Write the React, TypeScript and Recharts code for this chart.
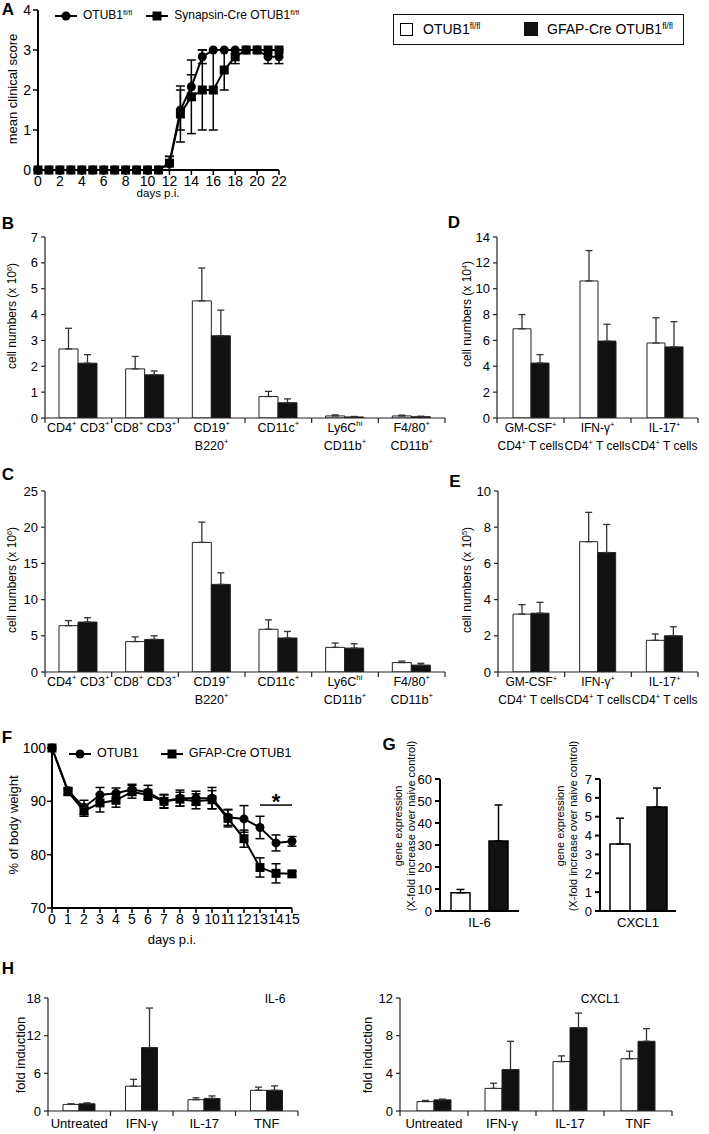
import React from "react";
import { BarChart, Bar, LineChart, Line, XAxis, YAxis, ErrorBar, ReferenceLine } from "recharts";

const FONT = '"Liberation Sans", Arial, Helvetica, sans-serif';

// ---- A: clinical score ----
const daysA = [0, 1, 2, 3, 4, 5, 6, 7, 8, 9, 10, 11, 12, 13, 14, 15, 16, 17, 18, 19, 20, 21, 22];
const scoreFl = [0, 0, 0, 0, 0, 0, 0, 0, 0, 0, 0, 0, 0.17, 1.5, 2.08, 2.83, 3, 3, 3, 3, 3, 2.83, 2.83];
const errFl = [0, 0, 0, 0, 0, 0, 0, 0, 0, 0, 0, 0, 0.17, 0.5, 0.3, 0.17, 0, 0, 0, 0, 0, 0.17, 0.17];
const scoreSyn = [0, 0, 0, 0, 0, 0, 0, 0, 0, 0, 0, 0, 0.17, 1.4, 1.83, 2, 2, 2.5, 2.83, 3, 3, 3, 3];
const errSyn = [0, 0, 0, 0, 0, 0, 0, 0, 0, 0, 0, 0, 0.17, 0.7, 0.92, 1, 1, 0.5, 0.17, 0, 0, 0, 0];
const ticksA = [0, 2, 4, 6, 8, 10, 12, 14, 16, 18, 20, 22];

// ---- B / C: spleen / CNS cell numbers ----
const catsBC = ["CD4{+} CD3{+}", "CD8{+} CD3{+}", "CD19{+}\nB220{+}", "CD11c{+}", "Ly6C{hi}\nCD11b{+}", "F4/80{+}\nCD11b{+}"];
const bFl = [2.67, 1.9, 4.53, 0.83, 0.08, 0.08];
const bFlErr = [0.8, 0.48, 1.27, 0.2, 0.04, 0.03];
const bGfap = [2.12, 1.67, 3.18, 0.59, 0.04, 0.05];
const bGfapErr = [0.33, 0.15, 0.99, 0.15, 0.02, 0.02];
const cFl = [6.4, 4.2, 17.9, 5.9, 3.4, 1.3];
const cFlErr = [0.7, 0.65, 2.8, 1.3, 0.6, 0.2];
const cGfap = [6.9, 4.5, 12.1, 4.7, 3.3, 0.95];
const cGfapErr = [0.6, 0.5, 1.6, 0.9, 0.6, 0.25];

// ---- D / E: cytokine-producing T cells ----
const catsDE = ["GM-CSF{+}\nCD4{+} T cells", "IFN-γ{+}\nCD4{+} T cells", "IL-17{+}\nCD4{+} T cells"];
const dFl = [6.9, 10.6, 5.8];
const dFlErr = [1.1, 2.35, 1.95];
const dGfap = [4.25, 5.95, 5.5];
const dGfapErr = [0.65, 1.3, 1.95];
const eFl = [3.2, 7.2, 1.75];
const eFlErr = [0.52, 1.62, 0.35];
const eGfap = [3.25, 6.6, 2.0];
const eGfapErr = [0.6, 1.55, 0.5];

// ---- F: body weight ----
const daysF = [0, 1, 2, 3, 4, 5, 6, 7, 8, 9, 10, 11, 12, 13, 14, 15];
const wtCtrl = [100, 92, 88.9, 91.2, 91.5, 92.2, 91.7, 90.0, 90.6, 90.6, 90.6, 87.0, 86.7, 85.1, 82.2, 82.5];
const errCtrl = [0, 0.6, 1.3, 1.4, 1.0, 1.0, 1.3, 1.3, 1.5, 1.3, 2.0, 1.5, 2.5, 2.1, 1.5, 0.9];
const wtGfap = [100, 91.8, 88.2, 89.7, 90.2, 91.8, 91.2, 90.0, 90.4, 90.0, 90.3, 86.8, 83.0, 77.6, 76.5, 76.4];
const errGfap = [0, 0.6, 1.0, 1.7, 1.3, 1.2, 1.0, 1.2, 1.3, 1.4, 1.7, 1.6, 1.6, 1.8, 1.8, 0.5];
const ticksF = [0, 1, 2, 3, 4, 5, 6, 7, 8, 9, 10, 11, 12, 13, 14, 15];

// ---- G: gene expression ----
const gIl6 = [8.3, 31.8];
const gIl6Err = [1.5, 16.4];
const gCxcl1 = [3.55, 5.52];
const gCxcl1Err = [1.37, 1.0];

// ---- H: fold induction ----
const catsH = ["Untreated", "IFN-γ", "IL-17", "TNF"];
const hIl6Fl = [1.05, 3.95, 1.8, 3.3];
const hIl6FlErr = [0.1, 1.1, 0.3, 0.5];
const hIl6Gfap = [1.15, 10.1, 2.0, 3.3];
const hIl6GfapErr = [0.15, 6.3, 0.4, 0.7];
const hCxFl = [1.0, 2.4, 5.25, 5.55];
const hCxFlErr = [0.12, 0.55, 0.6, 0.8];
const hCxGfap = [1.18, 4.4, 8.85, 7.4];
const hCxGfapErr = [0.08, 3.0, 1.55, 1.35];

// text with {superscript} parts, as svg tspans
function segs(line: string, fs: number) {
  const parts = line.split(/(\{[^}]*\})/).filter((s) => s !== "");
  let up = false;
  return parts.map((p, i) => {
    if (p.startsWith("{")) {
      const el = (
        <tspan key={i} dy={up ? 0 : -fs * 0.45} fontSize={fs * 0.62}>
          {p.slice(1, -1)}
        </tspan>
      );
      up = true;
      return el;
    }
    const el = (
      <tspan key={i} dy={up ? fs * 0.45 : 0}>
        {p}
      </tspan>
    );
    up = false;
    return el;
  });
}

const Sup = ({ children }: any) => (
  <span style={{ fontSize: "0.6em", position: "relative", top: "-0.6em" }}>{children}</span>
);

const Abs = ({ x, y, size = 12, bold = false, rot = false, children, align = "center" }: any) => (
  <div
    style={{
      position: "absolute",
      left: x,
      top: y,
      transform: `translate(-50%,-50%)${rot ? " rotate(-90deg)" : ""}`,
      fontSize: size,
      fontWeight: bold ? "bold" : "normal",
      whiteSpace: "nowrap",
      lineHeight: 1.15,
      textAlign: align,
      fontFamily: FONT,
      color: "#000",
    }}
  >
    {children}
  </div>
);

const CatTick = (p: any) => {
  const { x, y, payload, index, band, fs, base, lh, marks, ax } = p;
  const lines = String(payload.value).split("\n");
  return (
    <g>
      {marks && index === 0 && <line x1={x - band / 2} x2={x - band / 2} y1={y} y2={y + 5} stroke={ax} strokeWidth={1.2} />}
      {marks && <line x1={x + band / 2} x2={x + band / 2} y1={y} y2={y + 5} stroke={ax} strokeWidth={1.2} />}
      {lines.map((ln, i) => (
        <text key={i} x={x} y={y + base + i * lh} textAnchor="middle" fontSize={fs} fontFamily={FONT} fill="#000">
          {segs(ln, fs)}
        </text>
      ))}
    </g>
  );
};

function frame(x0: number, y0: number, x1: number, y1: number, yw: number, xh: number) {
  return {
    style: { position: "absolute" as const, left: x0 - yw, top: y0 - 12 },
    width: x1 - x0 + yw + 12,
    height: y1 - y0 + 12 + xh,
    margin: { top: 12, right: 12, bottom: 0, left: 0 },
  };
}

const EXCEL = { yw: 35, xh: 40, ax: "#222", aw: 1.2, ts: 4, yfs: 13, xfs: 12.5, base: 14, lh: 18, marks: true, bs: "#222", bsw: 1, eb: "#333", ew: 1.3, cap: 3.5 };
const PRISM = { yw: 30, xh: 24, ax: "#000", aw: 2, ts: 5, yfs: 13, xfs: 13, base: 16, lh: 16, marks: false, bs: "#000", bsw: 1.5, eb: "#000", ew: 1.5, cap: 4 };

function BarPanel({ r, cats, fl, flErr, gf, gfErr, domain, ticks, barSize, barGap = 0, st }: any) {
  const [x0, y0, x1, y1] = r;
  const f = frame(x0, y0, x1, y1, st.yw, st.xh);
  const band = (x1 - x0) / cats.length;
  const data = cats.map((c: string, i: number) => ({ cat: c, fl: fl[i], flE: [0, flErr[i]], gf: gf[i], gfE: [0, gfErr[i]] }));
  return (
    <div style={f.style}>
      <BarChart width={f.width} height={f.height} margin={f.margin} data={data} barSize={barSize} barGap={barGap}>
        <XAxis
          dataKey="cat"
          interval={0}
          height={st.xh}
          tickSize={0}
          tickMargin={0}
          tickLine={false}
          axisLine={{ stroke: st.ax, strokeWidth: st.aw }}
          tick={(p: any) => <CatTick {...p} band={band} fs={st.xfs} base={st.base} lh={st.lh} marks={st.marks} ax={st.ax} />}
        />
        <YAxis
          width={st.yw}
          domain={domain}
          ticks={ticks}
          interval={0}
          tickSize={st.ts}
          tickMargin={3}
          allowDataOverflow
          axisLine={{ stroke: st.ax, strokeWidth: st.aw }}
          tickLine={{ stroke: st.ax, strokeWidth: st.aw }}
          tick={{ fontSize: st.yfs, fill: "#000", fontFamily: FONT }}
        />
        <Bar dataKey="fl" fill="#fff" stroke={st.bs} strokeWidth={st.bsw} isAnimationActive={false}>
          <ErrorBar dataKey="flE" width={st.cap} stroke={st.eb} strokeWidth={st.ew} direction="y" />
        </Bar>
        <Bar dataKey="gf" fill="#111" stroke={st.bs} strokeWidth={st.bsw} isAnimationActive={false}>
          <ErrorBar dataKey="gfE" width={st.cap} stroke={st.eb} strokeWidth={st.ew} direction="y" />
        </Bar>
      </BarChart>
    </div>
  );
}

const squareDot = (s: number) => (p: any) => (
  <rect key={`sq${p.index}`} x={p.cx - s / 2} y={p.cy - s / 2} width={s} height={s} fill="#000" />
);

const lineAxis = { stroke: "#000", strokeWidth: 2 };
const tickFont = { fontSize: 14, fill: "#000", fontFamily: FONT };

function PanelA() {
  const f = frame(38, 10, 279, 170, 30, 22);
  const data = daysA.map((d, i) => ({ day: d, fl: scoreFl[i], flE: errFl[i], syn: scoreSyn[i], synE: errSyn[i] }));
  return (
    <div style={f.style}>
      <LineChart width={f.width} height={f.height} margin={f.margin} data={data}>
        <XAxis type="number" dataKey="day" domain={[0, 22]} ticks={ticksA} interval={0} height={22} tickSize={5} tickMargin={1} axisLine={lineAxis} tickLine={{ stroke: "#000", strokeWidth: 1.5 }} tick={tickFont} />
        <YAxis width={30} domain={[0, 4]} ticks={[0, 1, 2, 3, 4]} interval={0} tickSize={5} tickMargin={2} axisLine={lineAxis} tickLine={{ stroke: "#000", strokeWidth: 1.5 }} tick={tickFont} />
        <Line dataKey="fl" stroke="#000" strokeWidth={2} dot={{ r: 4.5, fill: "#000", stroke: "#000", strokeWidth: 0 }} isAnimationActive={false}>
          <ErrorBar dataKey="flE" width={4.5} stroke="#000" strokeWidth={1.5} direction="y" />
        </Line>
        <Line dataKey="syn" stroke="#000" strokeWidth={2} dot={squareDot(9)} isAnimationActive={false}>
          <ErrorBar dataKey="synE" width={4.5} stroke="#000" strokeWidth={1.5} direction="y" />
        </Line>
      </LineChart>
    </div>
  );
}

function PanelF() {
  const f = frame(52, 748, 292, 908, 45, 22);
  const data = daysF.map((d, i) => ({ day: d, c: wtCtrl[i], cE: errCtrl[i], g: wtGfap[i], gE: errGfap[i] }));
  return (
    <div style={f.style}>
      <LineChart width={f.width} height={f.height} margin={f.margin} data={data}>
        <XAxis type="number" dataKey="day" domain={[0, 15]} ticks={ticksF} interval={0} height={22} tickSize={5} tickMargin={1} axisLine={lineAxis} tickLine={{ stroke: "#000", strokeWidth: 1.5 }} tick={tickFont} />
        <YAxis width={45} domain={[70, 100]} ticks={[70, 80, 90, 100]} interval={0} tickSize={5} tickMargin={1} axisLine={lineAxis} tickLine={{ stroke: "#000", strokeWidth: 1.5 }} tick={tickFont} />
        <ReferenceLine
          segment={[{ x: 13, y: 89.3 }, { x: 15, y: 89.3 }]}
          stroke="#000"
          strokeWidth={1.5}
          label={{ value: "*", position: "top", offset: -4, fontSize: 22, fontWeight: "bold", fill: "#000", fontFamily: FONT }}
        />
        <Line dataKey="g" stroke="#000" strokeWidth={2} dot={squareDot(9)} isAnimationActive={false}>
          <ErrorBar dataKey="gE" width={4.5} stroke="#000" strokeWidth={1.5} direction="y" />
        </Line>
        <Line dataKey="c" stroke="#000" strokeWidth={2} dot={{ r: 4.5, fill: "#000", stroke: "#000", strokeWidth: 0 }} isAnimationActive={false}>
          <ErrorBar dataKey="cE" width={4.5} stroke="#000" strokeWidth={1.5} direction="y" />
        </Line>
      </LineChart>
    </div>
  );
}

const LegMark = ({ sq }: { sq?: boolean }) => (
  <svg width={22} height={10} style={{ verticalAlign: "middle", marginRight: 6 }}>
    <line x1={0} x2={22} y1={5} y2={5} stroke="#000" strokeWidth={2} />
    {sq ? <rect x={6.5} y={0.5} width={9} height={9} fill="#000" /> : <circle cx={11} cy={5} r={4.5} fill="#000" />}
  </svg>
);

const HST = { ...EXCEL, yw: 30, xh: 22, base: 17, xfs: 13 };
const DEST = { ...EXCEL, xfs: 12 };

export default function App() {
  return (
    <div style={{ position: "absolute", left: 0, top: 0, width: 709, height: 1134, background: "#fff", fontFamily: FONT, overflow: "hidden" }}>
      <style>{`.recharts-surface{overflow:visible}`}</style>

      {/* A */}
      <Abs x={8} y={10} size={17} bold>A</Abs>
      <Abs x={13} y={89} size={13} rot>mean clinical score</Abs>
      <Abs x={158} y={194} size={11.5}>days p.i.</Abs>
      <div style={{ position: "absolute", left: 55, top: 6, fontSize: 12, whiteSpace: "nowrap", lineHeight: "18px" }}>
        <LegMark />OTUB1<Sup>fl/fl</Sup>
        <span style={{ display: "inline-block", width: 14 }} />
        <LegMark sq />Synapsin-Cre OTUB1<Sup>fl/fl</Sup>
      </div>
      <PanelA />

      {/* legend box */}
      <div style={{ position: "absolute", left: 393, top: 14, width: 289, height: 29, border: "1.5px solid #111", fontSize: 14, whiteSpace: "nowrap" }}>
        <div style={{ position: "absolute", left: 6, top: 8, width: 11, height: 11, border: "1.5px solid #000", background: "#fff" }} />
        <div style={{ position: "absolute", left: 29, top: 6 }}>OTUB1<Sup>fl/fl</Sup></div>
        <div style={{ position: "absolute", left: 130, top: 7, width: 14, height: 14, background: "#111" }} />
        <div style={{ position: "absolute", left: 153, top: 6 }}>GFAP-Cre OTUB1<Sup>fl/fl</Sup></div>
      </div>

      {/* B */}
      <Abs x={8} y={224} size={17} bold>B</Abs>
      <Abs x={13} y={316} rot>cell numbers (x 10<Sup>6</Sup>)</Abs>
      <BarPanel r={[45, 237, 445, 418]} cats={catsBC} fl={bFl} flErr={bFlErr} gf={bGfap} gfErr={bGfapErr} domain={[0, 7]} ticks={[0, 1, 2, 3, 4, 5, 6, 7]} barSize={19} st={EXCEL} />

      {/* D */}
      <Abs x={454} y={223} size={17} bold>D</Abs>
      <Abs x={468} y={314} rot>cell numbers (x 10<Sup>4</Sup>)</Abs>
      <BarPanel r={[497, 237, 698, 418]} cats={catsDE} fl={dFl} flErr={dFlErr} gf={dGfap} gfErr={dGfapErr} domain={[0, 14]} ticks={[0, 2, 4, 6, 8, 10, 12, 14]} barSize={18} st={DEST} />

      {/* C */}
      <Abs x={8} y={475} size={17} bold>C</Abs>
      <Abs x={13} y={580} rot>cell numbers (x 10<Sup>6</Sup>)</Abs>
      <BarPanel r={[45, 491, 445, 672]} cats={catsBC} fl={cFl} flErr={cFlErr} gf={cGfap} gfErr={cGfapErr} domain={[0, 25]} ticks={[0, 5, 10, 15, 20, 25]} barSize={19} st={EXCEL} />

      {/* E */}
      <Abs x={455} y={482} size={17} bold>E</Abs>
      <Abs x={468} y={580} rot>cell numbers (x 10<Sup>5</Sup>)</Abs>
      <BarPanel r={[498, 491, 698, 672]} cats={catsDE} fl={eFl} flErr={eFlErr} gf={eGfap} gfErr={eGfapErr} domain={[0, 10]} ticks={[0, 2, 4, 6, 8, 10]} barSize={18} st={DEST} />

      {/* F */}
      <Abs x={7} y={738} size={17} bold>F</Abs>
      <Abs x={14} y={825} size={13} rot>% of body weight</Abs>
      <Abs x={172} y={940} size={13}>days p.i.</Abs>
      <div style={{ position: "absolute", left: 69, top: 744, fontSize: 12.5, whiteSpace: "nowrap", lineHeight: "18px" }}>
        <LegMark />OTUB1
        <span style={{ display: "inline-block", width: 22 }} />
        <LegMark sq />GFAP-Cre OTUB1
      </div>
      <PanelF />

      {/* G */}
      <Abs x={389} y={745} size={17} bold>G</Abs>
      <Abs x={405} y={826} size={11} rot>gene expression<br />(X-fold increase over naive control)</Abs>
      <Abs x={567} y={826} size={11} rot>gene expression<br />(X-fold increase over naive control)</Abs>
      <BarPanel r={[440, 779, 519, 911]} cats={["IL-6"]} fl={[gIl6[0]]} flErr={[gIl6Err[0]]} gf={[gIl6[1]]} gfErr={[gIl6Err[1]]} domain={[0, 60]} ticks={[0, 10, 20, 30, 40, 50, 60]} barSize={19} barGap={19} st={PRISM} />
      <BarPanel r={[600, 779, 676, 911]} cats={["CXCL1"]} fl={[gCxcl1[0]]} flErr={[gCxcl1Err[0]]} gf={[gCxcl1[1]]} gfErr={[gCxcl1Err[1]]} domain={[0, 7]} ticks={[0, 1, 2, 3, 4, 5, 6, 7]} barSize={20} barGap={17} st={{ ...PRISM, yw: 25 }} />

      {/* H */}
      <Abs x={8} y={969} size={17} bold>H</Abs>
      <Abs x={21} y={1055} size={13} rot>fold induction</Abs>
      <Abs x={368} y={1055} size={13} rot>fold induction</Abs>
      <Abs x={275} y={1000} size={12}>IL-6</Abs>
      <Abs x={600} y={1000} size={12}>CXCL1</Abs>
      <BarPanel r={[48, 998, 298, 1111]} cats={catsH} fl={hIl6Fl} flErr={hIl6FlErr} gf={hIl6Gfap} gfErr={hIl6GfapErr} domain={[0, 18]} ticks={[0, 6, 12, 18]} barSize={16} st={HST} />
      <BarPanel r={[400, 998, 672, 1111]} cats={catsH} fl={hCxFl} flErr={hCxFlErr} gf={hCxGfap} gfErr={hCxGfapErr} domain={[0, 12]} ticks={[0, 4, 8, 12]} barSize={17} st={HST} />
    </div>
  );
}
